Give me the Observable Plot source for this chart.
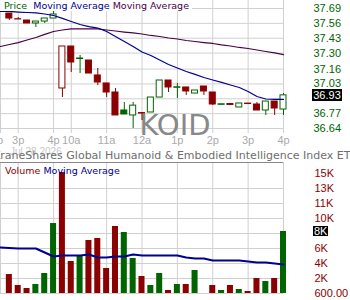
<!DOCTYPE html>
<html>
<head>
<meta charset="utf-8">
<script src="https://cdn.jsdelivr.net/npm/d3@7"></script>
<script src="https://cdn.jsdelivr.net/npm/@observablehq/plot@0.6"></script>
<style>
  html, body { margin: 0; padding: 0; background: #fff; }
  #wrap { position: relative; width: 350px; height: 300px; overflow: hidden; background: #fff; }
  #wrap > svg { position: absolute; left: 0; }
  .ov { position: absolute; white-space: nowrap; }
</style>
</head>
<body>
<div id="wrap"></div>
<script>
// ---------- data ----------
const symbol = "KOID";
const title = "KraneShares Global Humanoid & Embodied Intelligence Index ETF";
const dateLabel = "Jul 28 2026";
const priorClose = 37.62;

const opens  = [37.646,37.596,37.585,37.559,37.576,37.6025,36.99,37.3575,37.248,37.235,37.104,37.034,36.955,36.7975,36.754,36.775,36.78,36.911,37.06,36.996,36.999,36.946,37.0075,36.955,36.847,36.854,36.824,36.858,36.85,36.7975,36.876,36.806];
const highs  = [37.646,37.611,37.585,37.576,37.6025,37.681,37.3575,37.3575,37.279,37.235,37.165,37.034,36.99,36.8675,36.8675,36.775,36.911,37.06,37.06,37.034,36.999,36.9725,37.0075,36.955,36.852,36.854,36.859,36.858,36.8675,36.876,36.876,36.946];
const lows   = [37.585,37.594,37.559,37.524,37.559,37.6025,36.911,37.13,37.121,37.121,37.016,36.911,36.754,36.7625,36.64,36.71,36.78,36.911,36.955,36.9025,36.929,36.946,36.929,36.841,36.847,36.846,36.824,36.854,36.7975,36.754,36.754,36.754];
const closes = [37.6025,37.594,37.559,37.576,37.6025,37.6375,37.3575,37.2175,37.2525,37.121,37.0425,36.955,36.754,36.7625,36.84,36.771,36.911,37.06,36.999,37.001,36.964,36.9725,36.964,36.85,36.852,36.846,36.859,36.854,36.7975,36.876,36.815,36.93];
const volumes = [2880,1560,1200,1680,3000,9000,15120,4440,5160,6960,7200,3600,8640,7920,4800,2640,1560,3000,960,1680,1680,3360,600,1560,960,1560,1080,840,2400,2040,2400,8040];

// moving averages, first value is one bar before the window
const maIndex = d3.range(-1, 32);
const maFast = [37.664,37.664,37.659,37.655,37.651,37.642,37.629,37.603,37.576,37.55,37.532,37.519,37.489,37.445,37.401,37.358,37.309,37.279,37.239,37.2,37.169,37.139,37.113,37.086,37.064,37.043,37.021,36.999,36.964,36.92,36.898,36.894,36.894];
const maSlow = [37.3575,37.375,37.392,37.414,37.436,37.463,37.489,37.502,37.511,37.511,37.511,37.511,37.502,37.493,37.484,37.476,37.467,37.454,37.445,37.432,37.423,37.41,37.401,37.392,37.384,37.371,37.362,37.349,37.34,37.327,37.314,37.301,37.287];
const volMA = [6120,6050,6000,6000,6000,5520,5040,5160,5160,5160,5280,4920,4920,5040,5040,5280,5160,5160,5160,5160,5160,4920,4800,4800,4560,4560,4560,4560,4440,4320,4320,4200,4080];

const priceTicks = [37.69,37.56,37.43,37.30,37.16,37.03,36.90,36.77,36.64];
const priceDomain = [36.5962, 37.76];
const volTicks = [600,2400,4200,6000,7800,9600,11400,13200,15000];
const volTickLabels = ["600.00","2K","4K","6K","8K","10K","11K","13K","15K"];
const volDomain = [600, 16320];

const timeTicks = [-1.4,1,5,7,11,15,19,23,27,31];
const timeLabels = ["2p","3p","4p","10a","11a","12a","1p","2p","3p","4p"];
const priceGridIdx = [-1,1,5,7,11,15,19,23,27,31];
const volGridIdx = [-1,1,5,11,15,19,23,27,31];

// ---------- derived ----------
const RED = "#8b0000", GREEN = "#006400", NAVY = "#000090", PURPLE = "#4a0048", GRID = "#d0d0d0";
const candles = closes.map((c, i) => ({
  i, open: opens[i], high: highs[i], low: lows[i], close: c, vol: volumes[i],
  color: c >= (i ? closes[i - 1] : priorClose) ? GREEN : RED,
  hollow: c > opens[i]
}));
const maData = maIndex.map((i, j) => ({i, fast: maFast[j], slow: maSlow[j], vol: volMA[j]}));
const half = 0.34;
const xDomain = [-1, closes.length - 1];
const timeMap = new Map(timeTicks.map((t, k) => [t, timeLabels[k]]));
const volMap = new Map(volTicks.map((t, k) => [t, volTickLabels[k]]));

const lastClose = closes[closes.length - 1];
const lastVol = volumes[volumes.length - 1];
// labels hidden behind the current-value boxes are not drawn
const priceLabelTicks = priceTicks.filter(t => Math.abs(t - lastClose) > 0.05);
const volLabelTicks = volTicks.filter(t => Math.abs(t - lastVol) > 900);

const price = Plot.plot({
  width: 350, height: 150,
  marginTop: 0, marginBottom: 17, marginLeft: 0, marginRight: 67,
  x: {domain: xDomain, axis: null},
  y: {domain: priceDomain, axis: null},
  style: {fontFamily: "Liberation Sans, Arial, sans-serif", fontSize: "11px", background: "transparent"},
  marks: [
    Plot.ruleX(priceGridIdx, {stroke: GRID}),
    Plot.ruleY(priceTicks, {stroke: GRID}),
    Plot.text([symbol], {frameAnchor: "bottom", dx: 33, dy: -8, lineAnchor: "middle",
      fontFamily: "DejaVu Sans", fontSize: 29, fill: "#888"}),
    Plot.ruleX(candles, {x: "i", y1: "low", y2: "high", stroke: "color"}),
    Plot.rect(candles, {x1: d => d.i - half, x2: d => d.i + half, y1: "open", y2: "close",
      fill: d => d.hollow ? "white" : d.color, stroke: "color"}),
    Plot.line(maData, {x: "i", y: "slow", stroke: PURPLE, strokeWidth: 1.2}),
    Plot.line(maData, {x: "i", y: "fast", stroke: NAVY, strokeWidth: 1.2}),
    Plot.axisY(priceLabelTicks, {anchor: "right", tickSize: 0, tickPadding: 30, label: null,
      fill: "#006400", fontSize: 11, tickFormat: d => d.toFixed(2)}),
    Plot.axisX(timeTicks, {anchor: "bottom", tickSize: 0, tickPadding: 3, label: null,
      fill: "#aaa", fontSize: 11, tickFormat: d => timeMap.get(d)})
  ]
});

const volume = Plot.plot({
  width: 350, height: 150,
  marginTop: 12, marginBottom: 7, marginLeft: 0, marginRight: 67,
  x: {domain: xDomain, axis: null},
  y: {domain: volDomain, axis: null},
  style: {fontFamily: "Liberation Sans, Arial, sans-serif", fontSize: "11px", background: "transparent"},
  marks: [
    Plot.ruleX(volGridIdx, {stroke: GRID}),
    Plot.ruleY(volTicks.slice(0, 8), {stroke: GRID}),
    Plot.ruleY([volDomain[1]], {x1: xDomain[0], x2: xDomain[1], stroke: "#888"}),
    Plot.rect(candles, {x1: d => d.i - half, x2: d => d.i + half, y1: () => volDomain[0], y2: "vol", fill: "color"}),
    Plot.line(maData, {x: "i", y: "vol", stroke: NAVY, strokeWidth: 2}),
    Plot.axisY(volLabelTicks, {anchor: "right", tickSize: 0, tickPadding: 31, label: null,
      fill: "#8b0000", fontSize: 11, tickFormat: d => volMap.get(d)})
  ]
});

const wrap = document.getElementById("wrap");
price.style.top = "0px";
volume.style.top = "150px";
wrap.appendChild(price);
wrap.appendChild(volume);

function ov(html, css) {
  const d = document.createElement("div");
  d.className = "ov";
  d.innerHTML = html;
  Object.assign(d.style, css);
  wrap.appendChild(d);
  return d;
}

// date + title between panels
ov(dateLabel, {left: "10px", top: "146px", font: "10px 'Liberation Sans', Arial, sans-serif", color: "#c8c8c8"});
ov(title.replace("&", "&amp;"), {left: "175px", top: "149px", transform: "translateX(-50%)",
  font: "11px 'DejaVu Sans', sans-serif", color: "#6e6e6e", lineHeight: "13px"});

// legends
ov('<span style="color:#006400">Price</span>&nbsp; <span style="color:' + NAVY + '">Moving Average</span> <span style="color:' + PURPLE + '">Moving Average</span>',
  {left: "0px", top: "0px", padding: "0 3px 0 4px", background: "#fff", font: "9.5px 'DejaVu Sans', sans-serif", lineHeight: "11px"});
ov('<span style="color:#8b0000">Volume</span> <span style="color:' + NAVY + '">Moving Average</span>',
  {left: "5px", top: "165px", font: "9.5px 'DejaVu Sans', sans-serif", lineHeight: "11px"});

// current value boxes
const py = price.scale("y").apply(lastClose);
ov(lastClose.toFixed(2), {left: "312px", top: (py - 6) + "px", width: "30px", height: "12px", background: "#000", color: "#fff",
  font: "11px 'Liberation Sans', Arial, sans-serif", lineHeight: "12px", textAlign: "center"});
const vy = 150 + volume.scale("y").apply(lastVol);
ov(Math.round(lastVol / 1000) + "K", {left: "313px", top: (vy - 5) + "px", padding: "0 1px", height: "10px", background: "#000", color: "#fff",
  font: "11px 'Liberation Sans', Arial, sans-serif", lineHeight: "10px"});
</script>
</body>
</html>
